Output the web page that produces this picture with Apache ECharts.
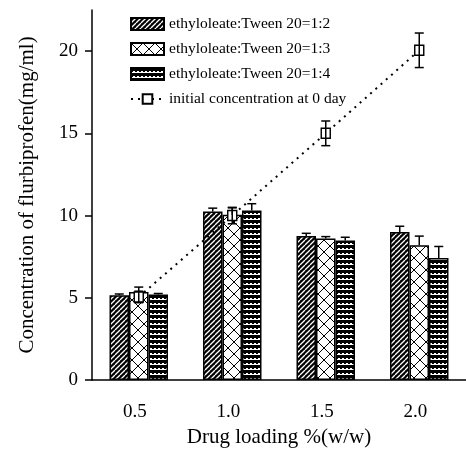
<!DOCTYPE html>
<html>
<head>
<meta charset="utf-8">
<script src="https://cdn.jsdelivr.net/npm/echarts@6/dist/echarts.min.js"></script>
<style>
  html, body { margin: 0; padding: 0; background: #fff; }
  #main { width: 466px; height: 462px; }
</style>
</head>
<body>
<div id="main"></div>
<script>
// data
let categories = ['0.5', '1.0', '1.5', '2.0'];
let yTicks = [0, 5, 10, 15, 20];

let ratio12 = [5.15, 10.25, 8.75, 9.0];
let ratio12Err = [0.08, 0.2, 0.17, 0.35];
let ratio13 = [5.35, 10.05, 8.6, 8.2];
let ratio13Err = [0.3, 0.42, 0.12, 0.55];
let ratio14 = [5.2, 10.3, 8.48, 7.42];
let ratio14Err = [0.06, 0.42, 0.2, 0.7];
let initial = [5.05, 10.0, 15.0, 20.05];
let initialErr = [0.35, 0.5, 0.75, 1.05];

let names = ['ethyloleate:Tween 20=1:2', 'ethyloleate:Tween 20=1:3', 'ethyloleate:Tween 20=1:4', 'initial concentration at 0 day'];

let BAR_W = 19.5;
let FONT = '"Liberation Serif", "Times New Roman", serif';

// hatch patterns
function makeDiag() {
    let c = document.createElement('canvas');
    c.width = 5; c.height = 5;
    let ctx = c.getContext('2d');
    ctx.fillStyle = '#000';
    ctx.fillRect(0, 0, 5, 5);
    ctx.strokeStyle = '#fff';
    ctx.lineWidth = 1.3;
    [-5, 0, 5].forEach(function (x0) {
        ctx.beginPath();
        ctx.moveTo(x0, 5);
        ctx.lineTo(x0 + 5, 0);
        ctx.stroke();
    });
    return c;
}
function makeCross() {
    let c = document.createElement('canvas');
    c.width = 12; c.height = 12;
    let ctx = c.getContext('2d');
    ctx.fillStyle = '#fff';
    ctx.fillRect(0, 0, 12, 12);
    ctx.strokeStyle = '#000';
    ctx.lineWidth = 1;
    ctx.beginPath();
    ctx.moveTo(0, 0); ctx.lineTo(12, 12);
    ctx.moveTo(12, 0); ctx.lineTo(0, 12);
    ctx.stroke();
    return c;
}
function makeHoriz() {
    let c = document.createElement('canvas');
    c.width = 4; c.height = 5;
    let ctx = c.getContext('2d');
    ctx.fillStyle = '#fff';
    ctx.fillRect(0, 0, 4, 5);
    ctx.fillStyle = '#000';
    ctx.fillRect(0, 0, 4, 3);
    ctx.fillRect(0, 3, 2, 1);
    return c;
}

let patterns = [
    { image: makeDiag(), repeat: 'repeat' },
    { image: makeCross(), repeat: 'repeat' },
    { image: makeHoriz(), repeat: 'repeat' }
];

function barSeries(i, values) {
    return {
        name: names[i],
        type: 'bar',
        barWidth: BAR_W,
        barGap: '0%',
        data: values,
        itemStyle: { color: patterns[i], borderColor: '#000', borderWidth: 1.5 },
        z: 2
    };
}

// error bars; offset = position of the bar inside its group, full = draw lower half too
function errSeries(values, errs, offset, full) {
    return {
        type: 'custom',
        z: 5,
        silent: true,
        data: values.map(function (v, k) { return [k, v, errs[k]]; }),
        renderItem: function (params, api) {
            let idx = api.value(0), v = api.value(1), e = api.value(2);
            let mid = api.coord([idx, v]);
            let top = api.coord([idx, v + e]);
            let bot = api.coord([idx, full ? v - e : v]);
            let x = mid[0] + offset;
            let cap = 4.5;
            let style = { stroke: '#000', lineWidth: 1.5 };
            let kids = [
                { type: 'line', shape: { x1: x, y1: top[1], x2: x, y2: bot[1] }, style: style },
                { type: 'line', shape: { x1: x - cap, y1: top[1], x2: x + cap, y2: top[1] }, style: style }
            ];
            if (full) {
                kids.push({ type: 'line', shape: { x1: x - cap, y1: bot[1], x2: x + cap, y2: bot[1] }, style: style });
            }
            return { type: 'group', children: kids };
        }
    };
}

let myChart = echarts.init(document.getElementById('main'));

let option = {
    animation: false,
    backgroundColor: '#fff',
    textStyle: { fontFamily: FONT, color: '#000' },
    grid: { left: 92, top: 10, width: 376, height: 370 },
    legend: {
        orient: 'vertical',
        left: 130,
        top: 16,
        padding: 0,
        itemWidth: 33,
        itemHeight: 12,
        itemGap: 9,
        data: [
            { name: names[0], icon: 'rect' },
            { name: names[1], icon: 'rect' },
            { name: names[2], icon: 'rect' },
            { name: names[3] }
        ],
        textStyle: { fontFamily: FONT, fontSize: 15.5, color: '#000', lineHeight: 16 }
    },
    xAxis: {
        type: 'category',
        data: categories,
        name: 'Drug loading %(w/w)',
        nameLocation: 'middle',
        nameGap: 42,
        nameTextStyle: { fontFamily: FONT, fontSize: 21, color: '#000' },
        axisLine: { lineStyle: { color: '#000', width: 1.5 } },
        axisTick: { show: false },
        axisLabel: { fontFamily: FONT, fontSize: 19, color: '#000', margin: 23, padding: [0, 8, 0, 0] },
        splitLine: { show: false }
    },
    yAxis: {
        type: 'value',
        min: 0,
        max: 22.5,
        interval: 5,
        name: 'Concentration of flurbiprofen(mg/ml)',
        nameLocation: 'middle',
        nameGap: 54,
        nameTextStyle: { fontFamily: FONT, fontSize: 21, color: '#000' },
        axisLine: { show: true, lineStyle: { color: '#000', width: 1.5 } },
        axisTick: { show: true, inside: false, length: 7, customValues: yTicks, lineStyle: { color: '#000', width: 1.5 } },
        axisLabel: { fontFamily: FONT, fontSize: 19, color: '#000', margin: 14, customValues: yTicks },
        splitLine: { show: false }
    },
    series: [
        barSeries(0, ratio12),
        barSeries(1, ratio13),
        barSeries(2, ratio14),
        {
            name: names[3],
            type: 'line',
            data: initial,
            symbol: 'rect',
            symbolSize: [9, 10],
            lineStyle: { color: '#000', width: 2, type: [2, 5] },
            itemStyle: { color: '#fff', borderColor: '#000', borderWidth: 1.5 },
            z: 4
        },
        errSeries(ratio12, ratio12Err, -BAR_W, false),
        errSeries(ratio13, ratio13Err, 0, false),
        errSeries(ratio14, ratio14Err, BAR_W, false),
        errSeries(initial, initialErr, 0, true)
    ]
};

myChart.setOption(option);
window.addEventListener('resize', function () {
    myChart.resize();
});
</script>
</body>
</html>
